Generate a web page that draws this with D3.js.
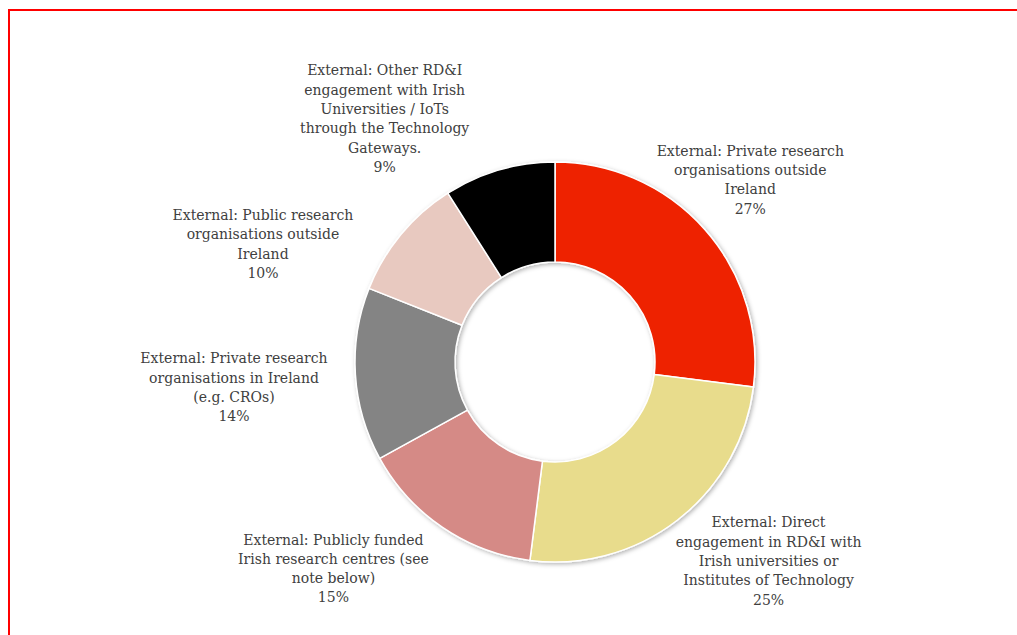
<!DOCTYPE html>
<html>
<head>
<meta charset="utf-8">
<script src="https://cdn.jsdelivr.net/npm/d3@7"></script>
<style>
  html, body { margin: 0; padding: 0; background: #fff; }
  svg { display: block; }
</style>
</head>
<body>
<svg id="chart" width="1017" height="635"></svg>
<script>
// Share of external RD&I engagement by partner type
const categories = [
  "External: Private research\norganisations outside\nIreland",
  "External: Direct\nengagement in RD&I with\nIrish universities or\nInstitutes of Technology",
  "External: Publicly funded\nIrish research centres (see\nnote below)",
  "External: Private research\norganisations in Ireland\n(e.g. CROs)",
  "External: Public research\norganisations outside\nIreland",
  "External: Other RD&I\nengagement with Irish\nUniversities / IoTs\nthrough the Technology\nGateways."
];
const values = [27, 25, 15, 14, 10, 9];
const colors = ["#EE2200", "#E8DC8C", "#D58A86", "#848484", "#E8C9C0", "#000000"];

// Label placement: angle (deg, clockwise from 12 o'clock) and distance from centre
const labelLayout = [
  { angle: 47, r: 267 },
  { angle: 133, r: 292 },
  { angle: 227, r: 303 },
  { angle: 265.5, r: 322 },
  { angle: 292, r: 315 },
  { angle: 325, r: 297 }
];

const W = 1017, H = 635;
const cx = 555, cy = 362;
const outerR = 200, innerR = 100;

const svg = d3.select("#chart");

// frame
svg.append("path")
  .attr("d", `M9,${H + 5} L9,10 L${W + 5},10`)
  .attr("fill", "none")
  .attr("stroke", "#FF0000")
  .attr("stroke-width", 2);

const defs = svg.append("defs");
const f = defs.append("filter").attr("id", "shadow")
  .attr("x", "-10%").attr("y", "-10%").attr("width", "120%").attr("height", "120%");
f.append("feDropShadow")
  .attr("dx", 1.5).attr("dy", 1.5).attr("stdDeviation", 2)
  .attr("flood-color", "#000").attr("flood-opacity", 0.3);

const pie = d3.pie().sort(null).value(d => d);
const arc = d3.arc().innerRadius(innerR).outerRadius(outerR);
const arcs = pie(values);

const g = svg.append("g").attr("transform", `translate(${cx},${cy})`);

g.append("g").attr("filter", "url(#shadow)")
  .selectAll("path")
  .data(arcs)
  .join("path")
  .attr("d", arc)
  .attr("fill", (d, i) => colors[i])
  .attr("stroke", "#fff")
  .attr("stroke-width", 1.5)
  .attr("stroke-linejoin", "round");

const lineH = 19.3;
const labels = g.selectAll("text.lbl")
  .data(arcs)
  .join("text")
  .attr("class", "lbl")
  .attr("text-anchor", "middle")
  .attr("font-family", "'DejaVu Serif', serif")
  .attr("font-size", 14)
  .attr("fill", "#404040");

labels.each(function (d, i) {
  const lines = categories[i].split("\n").concat([values[i] + "%"]);
  const a = labelLayout[i].angle * Math.PI / 180;
  const x = Math.sin(a) * labelLayout[i].r;
  const y = -Math.cos(a) * labelLayout[i].r;
  const top = y - (lines.length - 1) * lineH / 2;
  d3.select(this).selectAll("tspan")
    .data(lines)
    .join("tspan")
    .attr("x", x)
    .attr("y", (l, j) => top + j * lineH)
    .attr("dy", "0.35em")
    .text(l => l);
});
</script>
</body>
</html>
